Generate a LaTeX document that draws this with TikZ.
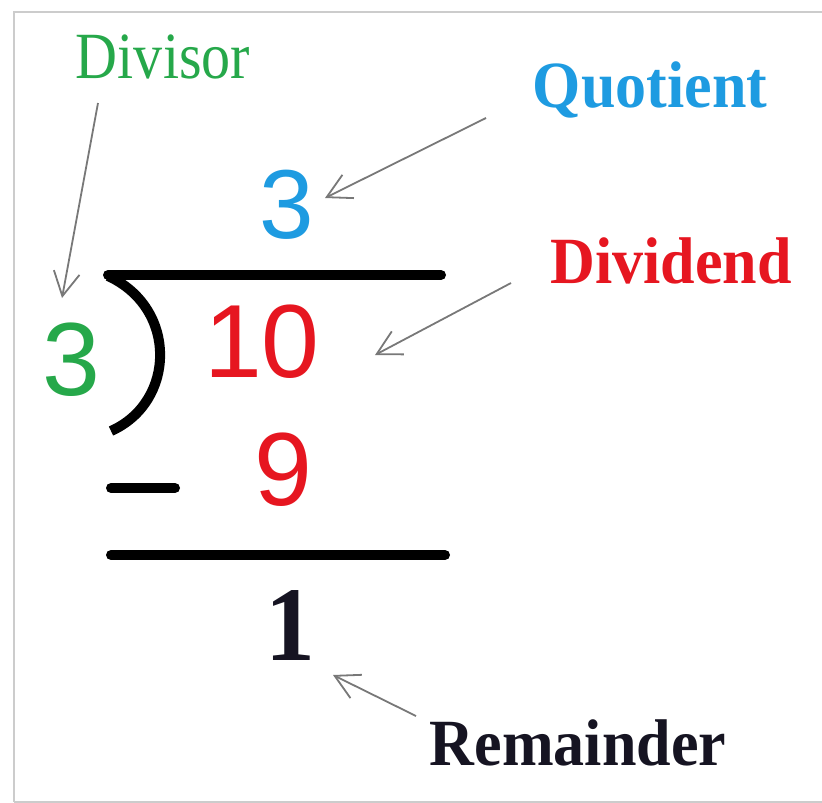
\documentclass[tikz,border=0pt]{standalone}
\usepackage{fontspec}
\usetikzlibrary{arrows.meta}
\newfontfamily\lblR[FakeStretch=0.88]{Liberation Serif}
\newfontfamily\lblB[FakeStretch=0.94]{Liberation Serif}
\newfontfamily\dig{Liberation Sans}
\definecolor{dgreen}{RGB}{38,168,74}
\definecolor{qblue}{RGB}{30,155,225}
\definecolor{dred}{RGB}{230,22,32}
\definecolor{remc}{RGB}{22,20,34}
\definecolor{arrowgray}{RGB}{120,120,120}
\tikzset{
  lbl/.style={inner sep=0pt, anchor=base},
  bigdig/.style={inner sep=0pt, anchor=base, font=\dig\fontsize{104}{110}\selectfont},
  barline/.style={line width=10pt, line cap=round},
  pointer/.style={draw=arrowgray, line width=1.8pt, -{Straight Barb[length=24pt,width=26pt,line width=1.8pt]}},
  frame/.style={draw=black!20, line width=2pt}
}
\begin{document}
\begin{tikzpicture}[x=1pt,y=-1pt]
\useasboundingbox (0,0) rectangle (822,803);
% frame
\draw[frame] (14,802) -- (14,12) -- (822,12);
\draw[frame] (14,802) -- (822,802);
% labels
\node[lbl, text=dgreen, font=\lblR\fontsize{66}{70}\selectfont] (divisor) at (163,78) {Divisor};
\node[lbl, text=qblue, font=\lblB\bfseries\fontsize{66}{70}\selectfont] (quotient) at (650,107) {Quotient};
\node[lbl, text=dred, font=\lblB\bfseries\fontsize{66}{70}\selectfont] (dividend) at (671,283) {Dividend};
\node[lbl, text=remc, font=\lblB\bfseries\fontsize{66}{70}\selectfont] (remainder) at (578,765) {Remainder};
% digits
\node[bigdig, text=qblue, font=\dig\fontsize{98}{110}\selectfont] (q) at (287,238) {3};
\node[bigdig, text=dgreen] (d) at (71,395) {3};
\node[bigdig, text=dred] (ten) at (262,377) {10};
\node[bigdig, text=dred] (nine) at (283,505) {9};
\node[lbl, text=remc, font=\lblB\bfseries\fontsize{106}{110}\selectfont] (one) at (290,660) {1};
% division sign
\draw[barline] (108,275) -- (441,275);
\draw[line width=10pt] (108,276) .. controls (178,308) and (176,402) .. (111,431);
\draw[barline] (111,488) -- (175,488);
\draw[barline] (111,555) -- (445,555);
% arrow coordinates
\coordinate (divS) at (98,103);
\coordinate (divE) at (62,298);
\coordinate (quoS) at (486,118);
\coordinate (quoE) at (325,198);
\coordinate (dvdS) at (511,283);
\coordinate (dvdE) at (375,355);
\coordinate (remS) at (416,716);
\coordinate (remE) at (333,675);
\draw[pointer] (divS) -- (divE);
\draw[pointer] (quoS) -- (quoE);
\draw[pointer] (dvdS) -- (dvdE);
\draw[pointer] (remS) -- (remE);
\end{tikzpicture}
\end{document}
